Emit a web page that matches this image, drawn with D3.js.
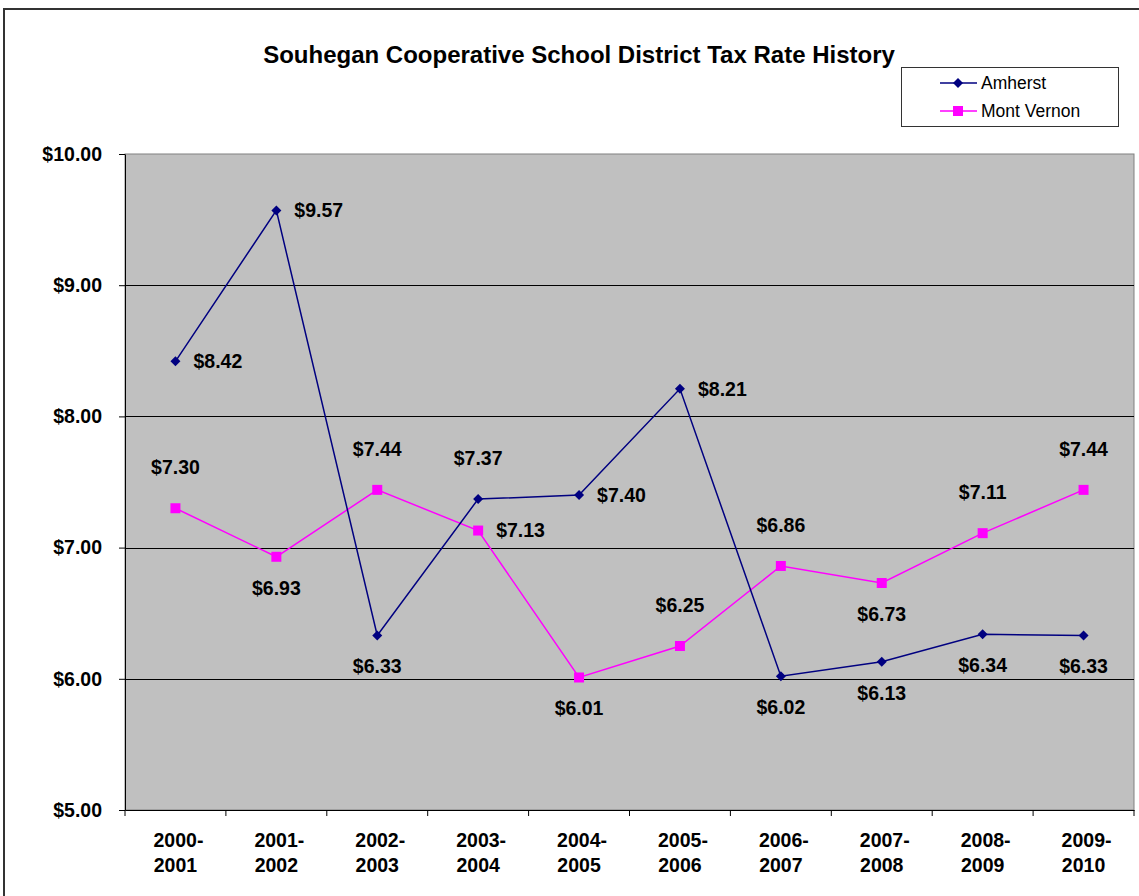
<!DOCTYPE html>
<html>
<head>
<meta charset="utf-8">
<script src="https://cdn.jsdelivr.net/npm/d3@7"></script>
<style>
  body { margin: 0; background: #fff; }
  svg text { font-family: Arial, "Liberation Sans", sans-serif; }
</style>
</head>
<body>
<div id="chart"></div>
<script>
var width = 1139, height = 896,
    margin = {top: 154, left: 125};

var years = ['2000-2001', '2001-2002', '2002-2003', '2003-2004', '2004-2005',
             '2005-2006', '2006-2007', '2007-2008', '2008-2009', '2009-2010'];
var amherst = [8.42, 9.57, 6.33, 7.37, 7.40, 8.21, 6.02, 6.13, 6.34, 6.33];
var montVernon = [7.30, 6.93, 7.44, 7.13, 6.01, 6.25, 6.86, 6.73, 7.11, 7.44];
var yTicks = [5, 6, 7, 8, 9, 10];

// where each value label sits relative to its point
var amherstLabelPos = ['right', 'right', 'below', 'above', 'right', 'right', 'below', 'below', 'below', 'below'];
var mvLabelPos = ['above', 'below', 'above', 'right', 'below', 'above', 'above', 'below', 'above', 'above'];

var axesWidth = 1134 - margin.left,
    axesHeight = 810 - margin.top;

const root = d3.select('#chart').append('svg')
    .attr('width', width)
    .attr('height', height);

// outer chart border
root.append('path')
    .attr('d', `M4,${height} V9 H${width}`)
    .attr('fill', 'none')
    .attr('stroke', '#333')
    .attr('stroke-width', 2);

root.append('text')
    .attr('x', 579).attr('y', 63)
    .attr('text-anchor', 'middle')
    .style('font-size', '24px')
    .style('font-weight', 'bold')
    .text('Souhegan Cooperative School District Tax Rate History');

const svg = root.append('g')
    .attr('transform', `translate(${margin.left},${margin.top})`);

const x = d3.scaleBand()
    .domain(years)
    .range([0, axesWidth]);

const y = d3.scaleLinear()
    .domain([5, 10])
    .range([axesHeight, 0]);

// plot area
svg.append('rect')
    .attr('width', axesWidth)
    .attr('height', axesHeight)
    .attr('fill', '#c0c0c0')
    .attr('stroke', '#808080')
    .attr('stroke-width', 1);

// gridlines
svg.selectAll('.grid')
    .data(yTicks.slice(1, -1))
    .join('line')
    .attr('x1', 0).attr('x2', axesWidth)
    .attr('y1', d => Math.round(y(d)) + 0.5)
    .attr('y2', d => Math.round(y(d)) + 0.5)
    .attr('stroke', '#000');

// Y axis
const yAxis = svg.append('g')
    .call(d3.axisLeft(y).tickValues(yTicks).tickSize(6).tickSizeOuter(0)
        .tickFormat(d => '$' + d3.format('.2f')(d)));
yAxis.select('.domain').attr('stroke', '#000');
yAxis.selectAll('text')
    .attr('x', -23)
    .style('font-size', '19.5px')
    .style('font-weight', 'bold')
    .attr('fill', '#000');

// X axis
const xAxis = svg.append('g')
    .attr('transform', `translate(0,${axesHeight})`)
    .call(d3.axisBottom(x).tickSize(0).tickFormat(''));
xAxis.select('.domain').attr('stroke', '#000');
xAxis.selectAll('.sep')
    .data(years.concat(['end']))
    .join('line')
    .attr('x1', (d, i) => i * x.bandwidth())
    .attr('x2', (d, i) => i * x.bandwidth())
    .attr('y1', 0).attr('y2', 6)
    .attr('stroke', '#000');
xAxis.selectAll('.lbl')
    .data(years)
    .join('text')
    .attr('fill', '#000')
    .attr('text-anchor', 'middle')
    .attr('transform', d => `translate(${x(d) + x.bandwidth() / 2},0)`)
    .style('font-size', '19.5px')
    .style('font-weight', 'bold')
    .each(function(d) {
        var parts = d.split('-');
        d3.select(this).append('tspan').attr('x', 3).attr('y', 37).text(parts[0] + '-');
        d3.select(this).append('tspan').attr('x', 0).attr('y', 62).text(parts[1]);
    });

const cx = i => x(years[i]) + x.bandwidth() / 2;

function drawSeries(values, color, shape, positions) {
    const line = d3.line()
        .x((d, i) => cx(i))
        .y(d => y(d));
    svg.append('path')
        .datum(values)
        .attr('fill', 'none')
        .attr('stroke', color)
        .attr('stroke-width', 1.5)
        .attr('d', line);
    svg.selectAll('.m' + shape)
        .data(values)
        .join('path')
        .attr('transform', (d, i) => `translate(${cx(i)},${y(d)})`)
        .attr('d', shape === 'diamond' ? 'M0,-5L5,0L0,5L-5,0Z' : 'M-5,-5H5V5H-5Z')
        .attr('fill', color);
    svg.selectAll('.l' + shape)
        .data(values)
        .join('text')
        .attr('x', (d, i) => positions[i] === 'right' ? cx(i) + 18 : cx(i))
        .attr('y', (d, i) => {
            var p = positions[i];
            return y(d) + (p === 'above' ? -41 : p === 'below' ? 31 : 0);
        })
        .attr('dy', '0.35em')
        .attr('text-anchor', (d, i) => positions[i] === 'right' ? 'start' : 'middle')
        .style('font-size', '19.5px')
        .style('font-weight', 'bold')
        .text(d => '$' + d3.format('.2f')(d));
}

drawSeries(montVernon, '#ff00ff', 'square', mvLabelPos);
drawSeries(amherst, '#000080', 'diamond', amherstLabelPos);

// legend
const legend = root.append('g');
legend.append('rect')
    .attr('x', 901.5).attr('y', 67.5)
    .attr('width', 217).attr('height', 59)
    .attr('fill', '#fff')
    .attr('stroke', '#333');
const legendItems = [
    {name: 'Amherst', color: '#000080', shape: 'M0,-5L5,0L0,5L-5,0Z'},
    {name: 'Mont Vernon', color: '#ff00ff', shape: 'M-5,-5H5V5H-5Z'}
];
legendItems.forEach(function(item, i) {
    var ly = 83 + i * 28;
    legend.append('line')
        .attr('x1', 940).attr('x2', 977)
        .attr('y1', ly).attr('y2', ly)
        .attr('stroke', item.color)
        .attr('stroke-width', 1.5);
    legend.append('path')
        .attr('transform', `translate(958,${ly})`)
        .attr('d', item.shape)
        .attr('fill', item.color);
    legend.append('text')
        .attr('x', 981).attr('y', ly)
        .attr('dy', '0.35em')
        .style('font-size', '17.5px')
        .text(item.name);
});
</script>
</body>
</html>
